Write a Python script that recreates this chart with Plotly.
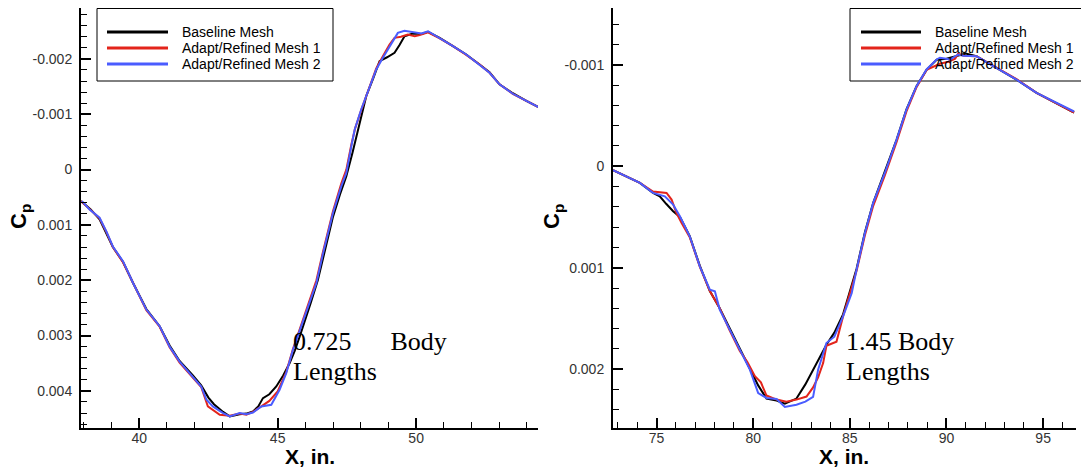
import plotly.graph_objects as go

W, H = 1081, 472

# ---------------- data ----------------
# Left panel: 0.725 body lengths
l_base_x = [37.90, 38.25, 38.57, 38.82, 39.05, 39.42, 39.78, 40.26, 40.74, 41.10, 41.46, 41.94,
            42.24, 42.50, 42.70, 43.03, 43.27, 43.63, 43.87, 44.11, 44.30, 44.47, 44.70, 44.95,
            45.20, 45.43, 45.62, 45.80, 46.00, 46.20, 46.45, 46.70, 47.00, 47.25, 47.48, 47.70,
            47.90, 48.05, 48.20, 48.45, 48.68, 48.95, 49.22, 49.40, 49.58, 49.88, 50.19, 50.43,
            50.85, 51.33, 51.81, 52.29, 52.65, 53.01, 53.49, 53.98, 54.42]
l_base_y = [0.00057, 0.00072, 0.00090, 0.00115, 0.00140, 0.00167, 0.00205, 0.00252, 0.00283, 0.00318,
            0.00346, 0.00372, 0.00390, 0.00412, 0.00424, 0.00438, 0.00446, 0.00442, 0.00441, 0.00437,
            0.00428, 0.00413, 0.00406, 0.00392, 0.00372, 0.00350, 0.00327, 0.00301, 0.00272, 0.00240,
            0.00200, 0.00150, 0.00085, 0.00045, 0.00012, -0.00030, -0.00072, -0.00102, -0.00133,
            -0.00165, -0.00196, -0.00203, -0.00211, -0.00225, -0.00241, -0.00246, -0.00245, -0.00249,
            -0.00238, -0.00223, -0.00208, -0.00190, -0.00176, -0.00154, -0.00138, -0.00124, -0.00113]

l_ref1_x = [37.90, 38.25, 38.57, 38.82, 39.05, 39.42, 39.78, 40.26, 40.74, 41.10, 41.46, 41.94,
            42.24, 42.48, 42.70, 42.91, 43.27, 43.63, 43.87, 44.11, 44.41, 44.70, 45.00, 45.31,
            45.55, 45.79, 46.15, 46.40, 46.64, 47.00, 47.30, 47.48, 47.66, 47.80, 48.02, 48.26,
            48.56, 48.80, 49.04, 49.22, 49.45, 49.70, 49.95, 50.13, 50.43, 50.85, 51.33, 51.81,
            52.29, 52.65, 53.01, 53.49, 53.98, 54.42]
l_ref1_y = [0.00057, 0.00073, 0.00088, 0.00113, 0.00140, 0.00168, 0.00206, 0.00254, 0.00284, 0.00321,
            0.00349, 0.00375, 0.00393, 0.00428, 0.00436, 0.00443, 0.00445, 0.00441, 0.00443, 0.00438,
            0.00428, 0.00418, 0.00401, 0.00366, 0.00325, 0.00290, 0.00238, 0.00200, 0.00148, 0.00075,
            0.00025, 0.00000, -0.00045, -0.00075, -0.00108, -0.00142, -0.00183, -0.00205, -0.00226,
            -0.00238, -0.00240, -0.00244, -0.00241, -0.00243, -0.00248, -0.00237, -0.00223, -0.00207,
            -0.00190, -0.00175, -0.00154, -0.00137, -0.00124, -0.00113]

l_ref2_x = [37.93, 38.21, 38.57, 38.82, 39.05, 39.42, 39.78, 40.26, 40.74, 41.10, 41.46, 41.94,
            42.24, 42.43, 42.66, 43.03, 43.27, 43.63, 43.87, 44.11, 44.41, 44.77, 45.07, 45.31,
            45.55, 45.79, 46.15, 46.40, 46.64, 47.00, 47.30, 47.48, 47.66, 47.78, 48.02, 48.26,
            48.56, 48.80, 49.04, 49.34, 49.58, 49.88, 50.19, 50.43, 50.85, 51.33, 51.81, 52.29,
            52.65, 53.01, 53.49, 53.98, 54.42]
l_ref2_y = [0.00057, 0.00072, 0.00087, 0.00112, 0.00139, 0.00166, 0.00205, 0.00253, 0.00283, 0.00320,
            0.00347, 0.00374, 0.00392, 0.00416, 0.00428, 0.00440, 0.00446, 0.00440, 0.00442, 0.00439,
            0.00428, 0.00425, 0.00398, 0.00368, 0.00326, 0.00292, 0.00241, 0.00205, 0.00151, 0.00078,
            0.00030, 0.00006, -0.00042, -0.00072, -0.00109, -0.00142, -0.00181, -0.00202, -0.00223,
            -0.00247, -0.00251, -0.00248, -0.00246, -0.00250, -0.00238, -0.00223, -0.00208, -0.00190,
            -0.00175, -0.00154, -0.00137, -0.00124, -0.00113]

# Right panel: 1.45 body lengths
r_base_x = [72.75, 73.45, 74.14, 74.82, 75.17, 75.50, 75.86, 76.21, 76.72, 77.24, 77.76, 78.27,
            78.79, 79.31, 79.83, 80.26, 80.69, 81.21, 81.64, 82.24, 82.70, 83.10, 83.45, 83.79,
            84.20, 84.65, 85.35, 85.78, 86.21, 86.81, 87.42, 87.93, 88.45, 88.97, 89.49, 90.00,
            90.60, 91.00, 91.55, 92.59, 93.62, 94.66, 95.86, 96.60]
r_base_y = [0.000039, 0.000099, 0.000164, 0.000262, 0.000296, 0.000370, 0.000444, 0.000500, 0.000690,
            0.000980, 0.001230, 0.001400, 0.001600, 0.001800, 0.001990, 0.002160, 0.002290, 0.002310,
            0.002340, 0.002290, 0.002150, 0.002010, 0.001880, 0.001760, 0.001640, 0.001460, 0.001010,
            0.000650, 0.000360, 0.000060, -0.000263, -0.000560, -0.000790, -0.000950, -0.001050,
            -0.001060, -0.001090, -0.001110, -0.001085, -0.000970, -0.000855, -0.000724, -0.000608,
            -0.000530]

r_ref1_x = [72.75, 73.45, 74.14, 74.82, 75.08, 75.52, 75.78, 76.03, 76.30, 76.72, 77.24, 77.76,
            78.27, 78.79, 79.31, 79.70, 80.09, 80.40, 80.69, 81.21, 81.72, 82.24, 82.76, 83.10,
            83.36, 83.62, 83.79, 84.31, 84.65, 85.35, 85.78, 86.21, 86.81, 87.42, 87.93, 88.45,
            88.97, 89.66, 90.10, 90.45, 90.60, 90.90, 91.55, 92.59, 93.62, 94.66, 95.86, 96.60]
r_ref1_y = [0.000039, 0.000099, 0.000164, 0.000250, 0.000256, 0.000263, 0.000328, 0.000460, 0.000560,
            0.000700, 0.000990, 0.001230, 0.001400, 0.001620, 0.001820, 0.001930, 0.002070, 0.002130,
            0.002260, 0.002300, 0.002320, 0.002300, 0.002270, 0.002180, 0.002080, 0.001940, 0.001770,
            0.001730, 0.001480, 0.001030, 0.000680, 0.000390, 0.000090, -0.000240, -0.000540,
            -0.000780, -0.000950, -0.001010, -0.001030, -0.001060, -0.001110, -0.001090, -0.001085,
            -0.000970, -0.000860, -0.000724, -0.000608, -0.000530]

r_ref2_x = [72.75, 73.45, 74.14, 74.82, 75.43, 75.86, 76.21, 76.72, 77.24, 77.76, 78.02, 78.27,
            78.79, 79.31, 79.83, 80.26, 80.69, 81.21, 81.64, 82.24, 82.70, 83.10, 83.36, 83.79,
            84.20, 84.65, 85.10, 85.35, 85.78, 86.21, 86.81, 87.42, 87.93, 88.45, 88.97, 89.49,
            89.66, 90.00, 90.17, 90.60, 90.86, 91.55, 92.59, 93.62, 94.66, 95.86, 96.60]
r_ref2_y = [0.000039, 0.000099, 0.000164, 0.000262, 0.000296, 0.000378, 0.000493, 0.000690, 0.000986,
            0.001216, 0.001233, 0.001413, 0.001610, 0.001808, 0.002005, 0.002235, 0.002284, 0.002294,
            0.002373, 0.002350, 0.002320, 0.002274, 0.002005, 0.001742, 0.001680, 0.001479, 0.001250,
            0.001019, 0.000657, 0.000361, 0.000066, -0.000263, -0.000559, -0.000789, -0.000954,
            -0.001052, -0.001070, -0.001059, -0.001050, -0.001102, -0.001090, -0.001085, -0.000970,
            -0.000855, -0.000724, -0.000608, -0.000540]

series_names = ["Baseline Mesh", "Adapt/Refined Mesh 1", "Adapt/Refined Mesh 2"]
series_colors = ["#000000", "#e3241b", "#4a5cff"]

left_xticks = [40, 45, 50]
left_yticks = [-0.002, -0.001, 0, 0.001, 0.002, 0.003, 0.004]
left_yticktext = ["-0.002", "-0.001", "0", "0.001", "0.002", "0.003", "0.004"]
right_xticks = [75, 80, 85, 90, 95]
right_yticks = [-0.001, 0, 0.001, 0.002]
right_yticktext = ["-0.001", "0", "0.001", "0.002"]

left_note = ["0.725\u00a0\u00a0\u00a0\u00a0\u00a0\u00a0Body", "Lengths"]
right_note = ["1.45 Body", "Lengths"]

# ---------------- figure ----------------
fig = go.Figure()
left_data = [(l_base_x, l_base_y), (l_ref1_x, l_ref1_y), (l_ref2_x, l_ref2_y)]
right_data = [(r_base_x, r_base_y), (r_ref1_x, r_ref1_y), (r_ref2_x, r_ref2_y)]
for (xs, ys), name, col in zip(left_data, series_names, series_colors):
    fig.add_trace(go.Scatter(x=xs, y=ys, mode="lines", name=name, line=dict(color=col, width=2),
                             xaxis="x", yaxis="y", showlegend=False, hoverinfo="skip"))
for (xs, ys), name, col in zip(right_data, series_names, series_colors):
    fig.add_trace(go.Scatter(x=xs, y=ys, mode="lines", name=name, line=dict(color=col, width=2),
                             xaxis="x2", yaxis="y2", showlegend=False, hoverinfo="skip"))


def px(p):
    return p / W


def py(p):
    return 1 - p / H


tickfont = dict(family="Liberation Sans, Arial, sans-serif", size=14, color="#333333")
common = dict(showline=True, linecolor="black", linewidth=2, ticks="inside", ticklen=10,
              tickwidth=2, tickcolor="black", showgrid=False, zeroline=False, tickfont=tickfont,
              tickmode="array")
xminor = dict(ticks="inside", ticklen=6, tickwidth=1, tickcolor="black", dtick=1, tick0=0)
yminor = dict(ticks="inside", ticklen=6, tickwidth=1, tickcolor="black", dtick=0.0002, tick0=0)

fig.update_layout(
    width=W, height=H, margin=dict(l=0, r=0, t=0, b=0),
    paper_bgcolor="white", plot_bgcolor="white", showlegend=False,
    xaxis=dict(common, domain=[px(81), px(538)], range=[37.9, 54.4], anchor="y",
               tickvals=left_xticks, ticktext=[str(v) for v in left_xticks],
               ticklabelstandoff=-4, minor=xminor),
    yaxis=dict(common, domain=[py(428), py(8)], range=[0.00467, -0.00292], anchor="x",
               tickvals=left_yticks, ticktext=left_yticktext, ticklabelstandoff=4, minor=yminor),
    xaxis2=dict(common, domain=[px(613), px(1076)], range=[72.75, 96.7], anchor="y2",
                tickvals=right_xticks, ticktext=[str(v) for v in right_xticks],
                ticklabelstandoff=-4, minor=xminor),
    yaxis2=dict(common, domain=[py(428), py(8)], range=[0.00258, -0.00156], anchor="x2",
                tickvals=right_yticks, ticktext=right_yticktext, ticklabelstandoff=4, minor=yminor),
)

shapes = []
annotations = []

# manual legends (one per panel), drawn beneath the curves
for box_x0, box_x1, line_x0, line_x1, text_x in [(97, 333, 107, 168, 180), (850, 1090, 861, 921, 933)]:
    shapes.append(dict(type="rect", xref="paper", yref="paper", x0=px(box_x0), x1=px(box_x1),
                       y0=py(81), y1=py(8.5), line=dict(color="black", width=1), fillcolor="white",
                       layer="below"))
    for i, (name, col) in enumerate(zip(series_names, series_colors)):
        yy = 32 + 16 * i
        shapes.append(dict(type="line", xref="paper", yref="paper", x0=px(line_x0), x1=px(line_x1),
                           y0=py(yy), y1=py(yy), line=dict(color=col, width=3), layer="below"))
        annotations.append(dict(xref="paper", yref="paper", x=px(text_x), y=py(yy), text=name,
                                showarrow=False, xanchor="left", yanchor="middle",
                                font=dict(family="Liberation Sans, Arial, sans-serif", size=14, color="black")))

# body-length notes
note_font = dict(family="Liberation Serif, Times New Roman, serif", size=26, color="black")
for x0, lines in [(293, left_note), (846, right_note)]:
    for j, t in enumerate(lines):
        annotations.append(dict(xref="paper", yref="paper", x=px(x0 - 2), y=py(341 + 30 * j), text=t,
                                showarrow=False, xanchor="left", yanchor="middle", font=note_font))

# axis titles
title_font = dict(family="Liberation Sans, Arial, sans-serif", size=21, color="black")
for cx in [(81 + 538) / 2, (613 + 1076) / 2]:
    annotations.append(dict(xref="paper", yref="paper", x=px(cx), y=py(456), text="<b>X, in.</b>",
                            showarrow=False, xanchor="center", yanchor="middle", font=title_font))
for cx in [20, 553]:
    annotations.append(dict(xref="paper", yref="paper", x=px(cx), y=py(217), text="<b>C<sub>p</sub></b>",
                            showarrow=False, xanchor="center", yanchor="middle", textangle=-90,
                            font=dict(family="Liberation Sans, Arial, sans-serif", size=22, color="black")))

fig.update_layout(shapes=shapes, annotations=annotations)
fig.write_html("out.html", config={"displayModeBar": False},
               post_script="document.body.style.margin='0px';")
